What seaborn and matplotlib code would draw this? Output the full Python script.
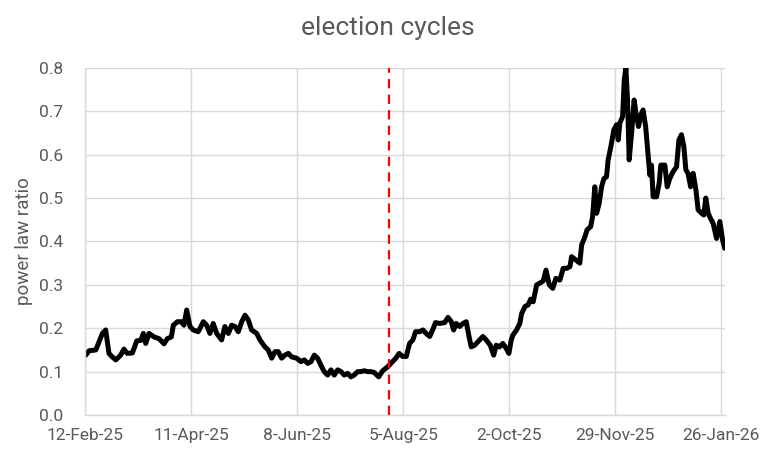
import numpy as np
import pandas as pd
import seaborn as sns
import matplotlib.pyplot as plt

# days after 12-Feb-25
day_offsets = [
    0.4, 2.2, 5.9, 7.7, 9.5, 11.3, 13.1, 14.9, 16.8, 19.5, 21.3, 23.1, 25.9, 28.3, 30.5,
    31.9, 33.2, 35.0, 37.7, 40.5, 43.2, 45.0, 47.2, 48.3, 50.5, 52.7, 54.1, 55.6, 57.4, 59.2,
    61.9, 64.7, 66.5, 68.3, 70.1, 72.0, 74.7, 76.5, 78.4, 80.2, 82.0, 83.8, 85.7, 87.5, 89.3,
    91.1, 93.9, 95.7, 98.4, 100.2, 102.1, 103.9, 105.7, 107.5, 109.3, 111.2, 113.0, 115.7, 118.1,
    119.9, 121.8, 123.6, 125.4, 127.2, 129.0, 130.8, 132.7, 134.5, 136.3, 138.2, 140.0, 141.8,
    143.6, 145.4, 147.2, 149.1, 150.9, 152.7, 154.6, 156.4, 158.2, 160.6, 162.8, 165.5, 167.3,
    170.0, 171.8, 173.7, 175.7, 177.5, 179.3, 180.8, 183.0, 184.8, 186.6, 188.5, 190.3, 191.7,
    193.9, 196.7, 198.5, 200.3, 201.6, 203.0, 204.9, 206.7, 208.5, 210.0, 211.2, 213.1, 214.9,
    217.6, 219.4, 221.6, 223.5, 224.9, 226.7, 228.5, 230.3, 231.8, 233.1, 234.0, 236.0, 237.8,
    238.8, 240.6, 242.4, 243.7, 245.1, 247.0, 248.8, 250.6, 252.1, 253.9, 255.8, 257.5, 259.7,
    261.5, 263.4, 265.2, 266.1, 268.5, 270.6, 271.6, 273.4, 274.6, 276.5, 277.6, 278.8, 279.8,
    281.2, 282.5, 283.8, 285.2, 286.1, 287.6, 289.2, 290.7, 291.6, 292.5, 294.0, 294.9, 295.8,
    296.7, 297.6, 298.9, 300.3, 301.6, 302.7, 304.0, 305.2, 306.6, 307.4, 308.9, 309.8, 310.7,
    312.6, 314.0, 314.9, 317.1, 318.4, 319.8, 321.6, 323.5, 324.8, 326.2, 327.5, 328.6, 329.8,
    331.2, 332.6, 334.1, 335.3, 337.2, 338.4, 339.5, 340.8, 342.1, 343.5, 345.4, 347.2, 348.7,
    349.9,
]
ratio = [
    0.138, 0.148, 0.150, 0.169, 0.188, 0.196, 0.142, 0.134, 0.127, 0.138, 0.152, 0.142, 0.143, 0.171, 0.172,
    0.188, 0.165, 0.188, 0.180, 0.176, 0.164, 0.176, 0.180, 0.207, 0.215, 0.215, 0.207, 0.242, 0.204, 0.196,
    0.192, 0.215, 0.207, 0.188, 0.211, 0.188, 0.173, 0.204, 0.188, 0.207, 0.204, 0.192, 0.215, 0.230, 0.219,
    0.196, 0.188, 0.173, 0.157, 0.150, 0.131, 0.146, 0.146, 0.131, 0.138, 0.142, 0.134, 0.131, 0.123,
    0.127, 0.119, 0.123, 0.138, 0.131, 0.115, 0.100, 0.092, 0.104, 0.092, 0.104, 0.100, 0.092,
    0.096, 0.088, 0.092, 0.100, 0.100, 0.102, 0.100, 0.100, 0.098, 0.088, 0.102, 0.111, 0.119,
    0.131, 0.142, 0.135, 0.135, 0.165, 0.173, 0.192, 0.192, 0.196, 0.188, 0.181, 0.198, 0.213,
    0.211, 0.213, 0.225, 0.215, 0.196, 0.211, 0.204, 0.211, 0.215, 0.181, 0.157, 0.161, 0.169,
    0.181, 0.173, 0.161, 0.138, 0.161, 0.157, 0.165, 0.154, 0.142, 0.173, 0.184, 0.196, 0.211,
    0.234, 0.250, 0.254, 0.267, 0.261, 0.300, 0.304, 0.309, 0.334, 0.300, 0.292, 0.315, 0.311,
    0.338, 0.338, 0.342, 0.365, 0.357, 0.350, 0.392, 0.411, 0.427, 0.434, 0.457, 0.526, 0.465,
    0.488, 0.526, 0.545, 0.549, 0.588, 0.619, 0.657, 0.669, 0.634, 0.673, 0.688, 0.772, 0.800,
    0.726, 0.588, 0.649, 0.726, 0.688, 0.665, 0.692, 0.703, 0.665, 0.626, 0.553, 0.576, 0.503,
    0.503, 0.534, 0.576, 0.576, 0.526, 0.545, 0.561, 0.572, 0.634, 0.646, 0.619, 0.565, 0.557,
    0.526, 0.557, 0.519, 0.473, 0.465, 0.461, 0.500, 0.465, 0.453, 0.442, 0.407, 0.446, 0.403,
    0.384,
]

start = pd.Timestamp("2025-02-12")
axis_end = pd.Timestamp("2026-01-28")
marker_date = pd.Timestamp("2025-07-28")
tick_dates = ["2025-02-12", "2025-04-11", "2025-06-08", "2025-08-05",
              "2025-10-02", "2025-11-29", "2026-01-26"]
tick_labels = ["12-Feb-25", "11-Apr-25", "8-Jun-25", "5-Aug-25",
               "2-Oct-25", "29-Nov-25", "26-Jan-26"]
y_ticks = [0.0, 0.1, 0.2, 0.3, 0.4, 0.5, 0.6, 0.7, 0.8]

df = pd.DataFrame({
    "date": start + pd.to_timedelta(day_offsets, unit="D"),
    "ratio": ratio,
})

sns.set_theme(style="whitegrid")
plt.rcParams["font.family"] = ["Roboto", "DejaVu Sans"]
grey = "#595959"

fig, ax = plt.subplots(figsize=(7.68, 4.62), dpi=100)
fig.subplots_adjust(left=0.1107, right=0.944, top=0.853, bottom=0.1017)

sns.lineplot(data=df, x="date", y="ratio", color="black", linewidth=3.6, ax=ax)
ax.axvline(marker_date, color="#FF0000", linewidth=1.6, linestyle=(0, (4.2, 2.8)), zorder=3)

ax.set_xlim(start, axis_end)
ax.set_ylim(0, 0.8)
ax.set_xticks(pd.to_datetime(tick_dates))
ax.set_xticklabels(tick_labels)
ax.set_yticks(y_ticks)
ax.set_yticklabels([f"{v:.1f}" for v in y_ticks])
ax.tick_params(axis="both", colors=grey, labelsize=12.5, length=0)
ax.tick_params(axis="y", pad=16)
ax.tick_params(axis="x", pad=9)

ax.grid(True, color="#D9D9D9", linewidth=1)
for side in ["top", "right"]:
    ax.spines[side].set_visible(False)
ax.spines["left"].set_color("#D9D9D9")
ax.spines["bottom"].set_color("#D9D9D9")
ax.spines["left"].set_linewidth(1)
ax.spines["bottom"].set_linewidth(1)

ax.set_xlabel("")
ax.set_ylabel("power law ratio", color=grey, fontsize=13.5, labelpad=4)
fig.suptitle("election cycles", color=grey, fontsize=19, x=0.505, y=0.965)

fig.savefig("out.png", dpi=100, facecolor="white")
